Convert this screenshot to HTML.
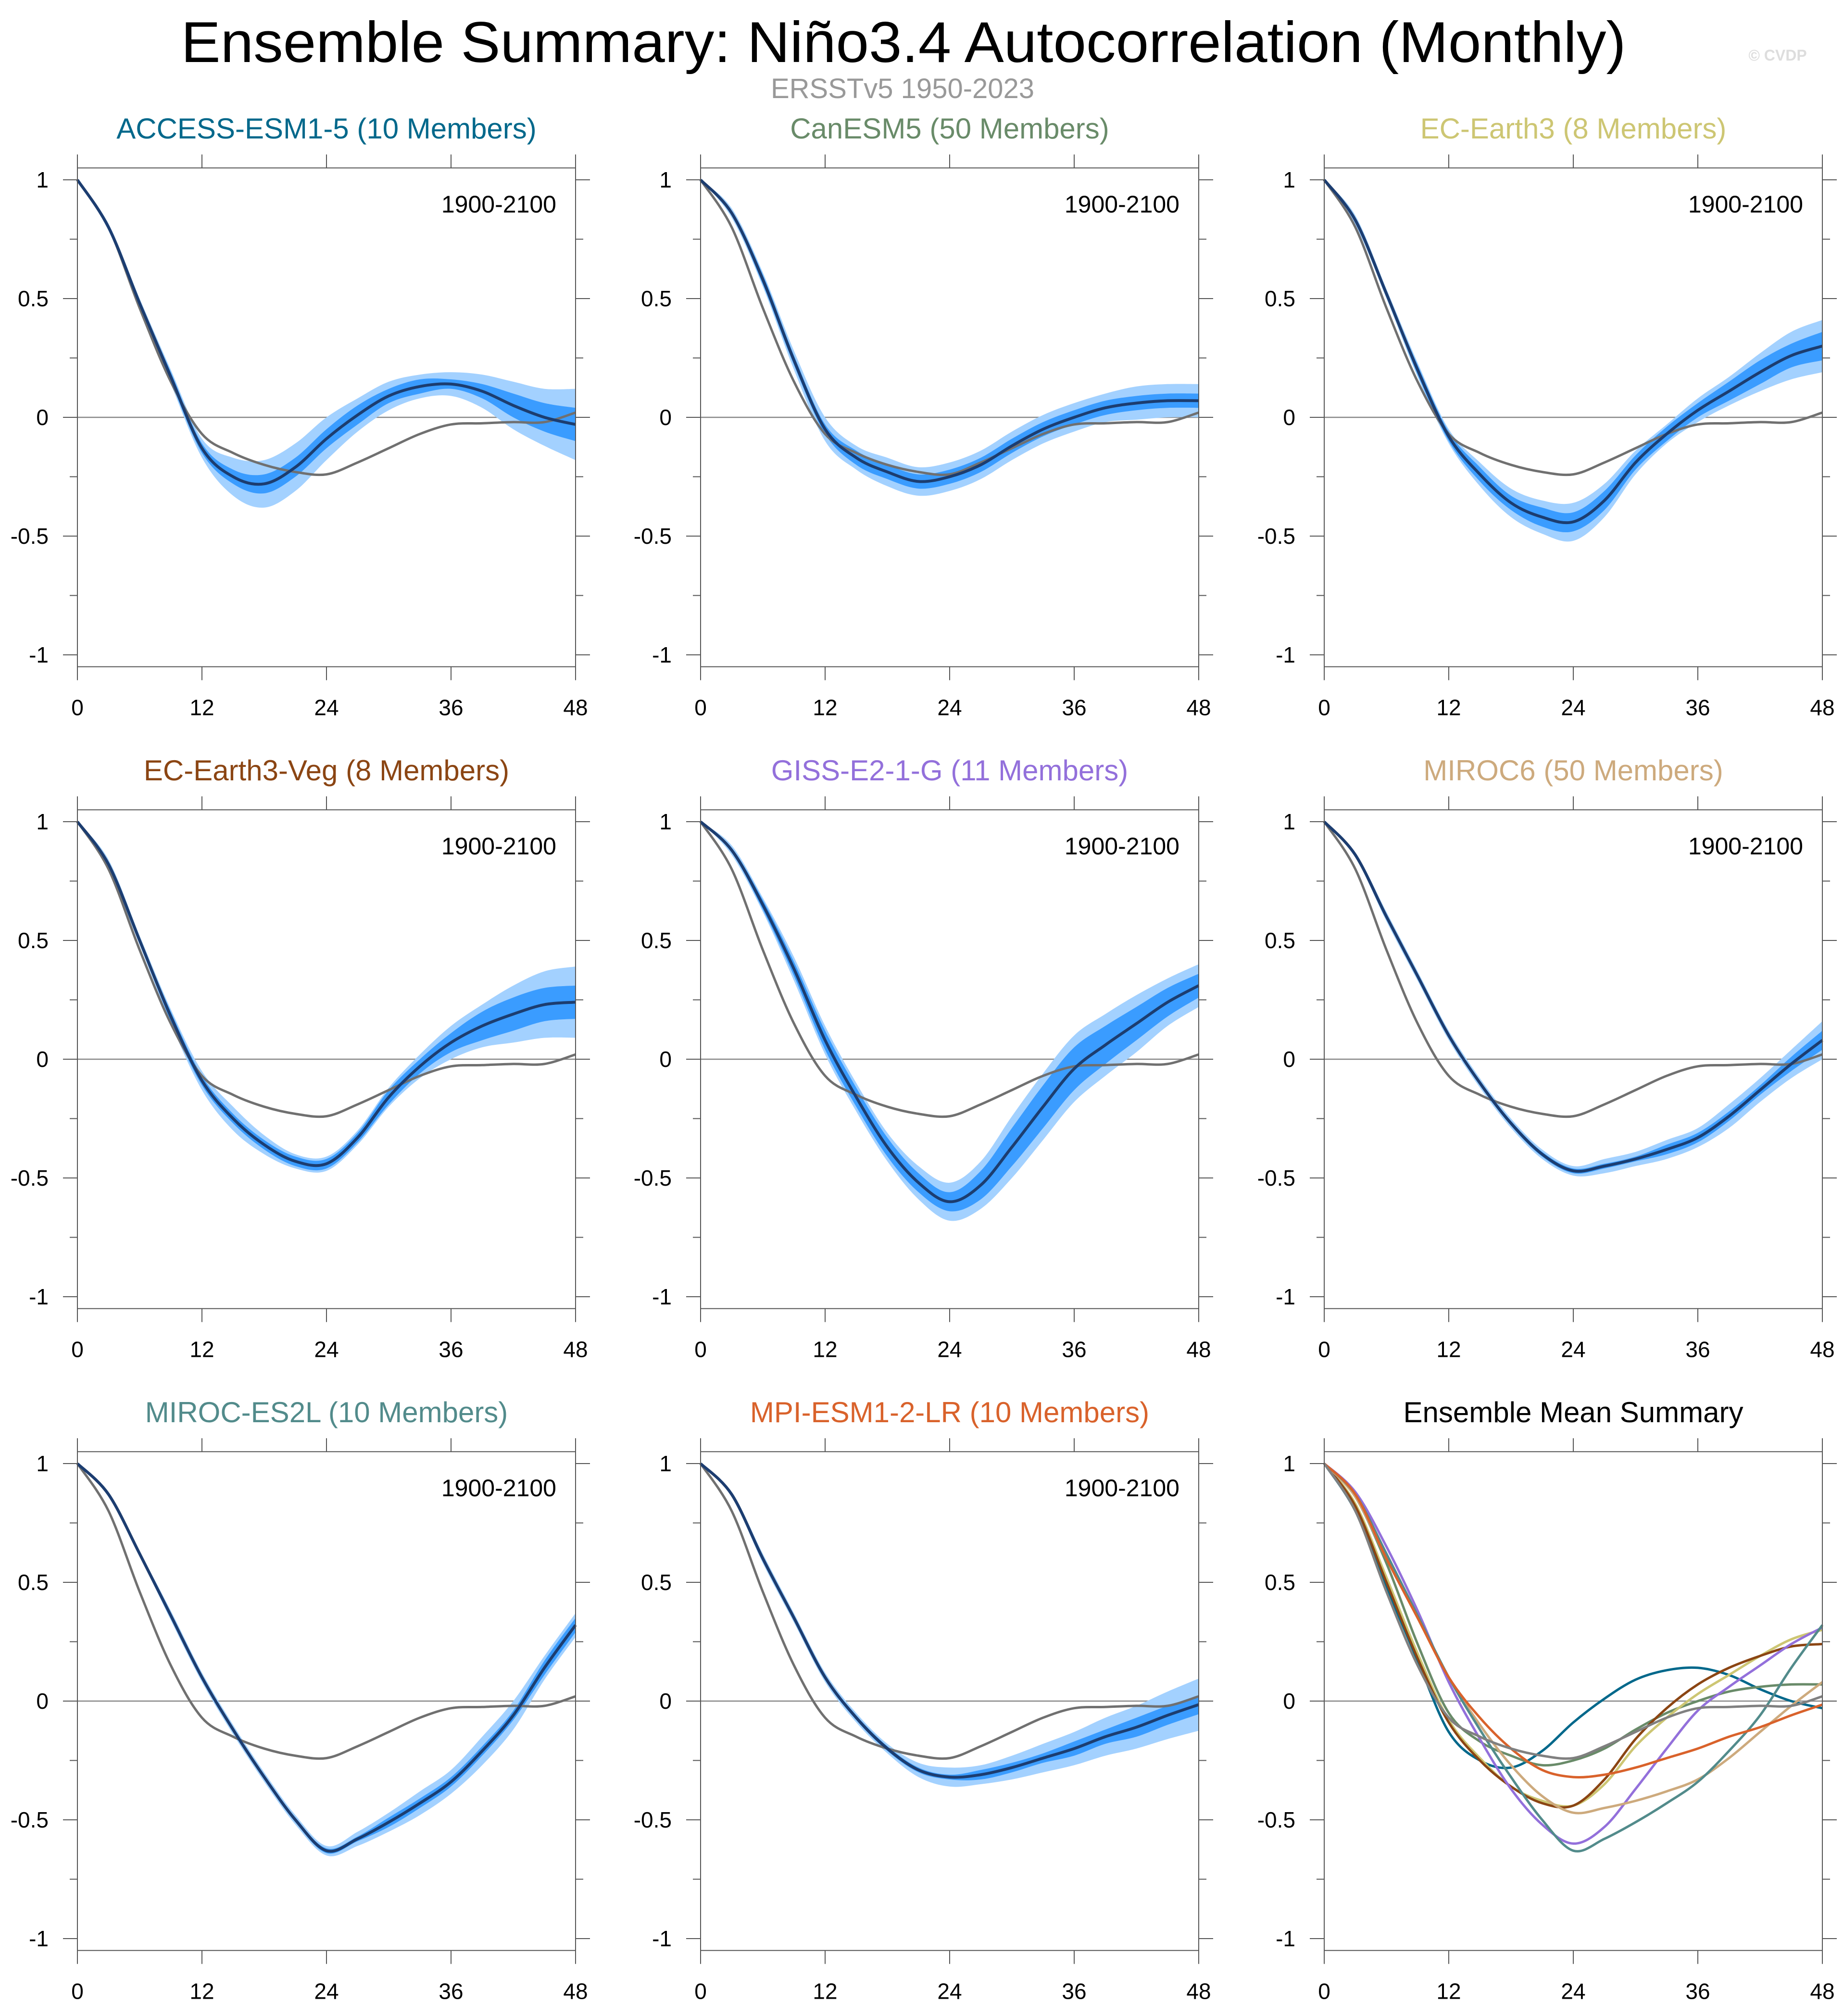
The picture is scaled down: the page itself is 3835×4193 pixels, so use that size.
<!DOCTYPE html>
<html><head><meta charset="utf-8"><style>
html,body{margin:0;padding:0;background:#fff;}
svg text{font-family:"Liberation Sans",sans-serif;}
</style></head><body>
<svg id="fig" xmlns="http://www.w3.org/2000/svg" width="3835" height="4188" viewBox="0 0 3835 4188">
<rect width="3835" height="4188" fill="#fff"/>
<text x="1879" y="129" font-size="120" text-anchor="middle" fill="#000" textLength="3005" lengthAdjust="spacingAndGlyphs">Ensemble Summary: Niño3.4 Autocorrelation (Monthly)</text>
<text x="1877" y="204" font-size="58" text-anchor="middle" fill="#999">ERSSTv5 1950-2023</text>
<text x="3697" y="126" font-size="32" font-weight="bold" text-anchor="middle" fill="#ddd">© CVDP</text>
<g id="panels"></g>
</svg>
<script>
const lags=[0,3,6,9,12,15,18,21,24,27,30,33,36,39,42,45,48];
const obs=[1,0.8,0.46,0.15,-0.07,-0.15,-0.2,-0.23,-0.24,-0.19,-0.13,-0.07,-0.03,-0.025,-0.02,-0.02,0.02];
const modelNames=["ACCESS-ESM1-5 (10 Members)","CanESM5 (50 Members)","EC-Earth3 (8 Members)","EC-Earth3-Veg (8 Members)","GISS-E2-1-G (11 Members)","MIROC6 (50 Members)","MIROC-ES2L (10 Members)","MPI-ESM1-2-LR (10 Members)"];
const accessMean=[1,0.8,0.48,0.17,-0.13,-0.25,-0.28,-0.21,-0.09,0.01,0.09,0.13,0.14,0.11,0.05,0.0,-0.03];
const accessInner=[0,0.01,0.01,0.02,0.02,0.03,0.04,0.04,0.04,0.04,0.03,0.03,0.02,0.03,0.05,0.06,0.07];
const accessOuter=[0,0.015,0.02,0.03,0.04,0.08,0.1,0.1,0.09,0.07,0.06,0.05,0.05,0.07,0.1,0.12,0.15];
const canMean=[1,0.86,0.58,0.24,-0.05,-0.17,-0.23,-0.27,-0.25,-0.2,-0.12,-0.05,0.0,0.04,0.06,0.07,0.07];
const canInner=[0,0.01,0.02,0.02,0.02,0.03,0.03,0.03,0.03,0.03,0.03,0.03,0.03,0.03,0.03,0.03,0.03];
const canOuter=[0,0.02,0.03,0.04,0.05,0.05,0.06,0.06,0.06,0.06,0.06,0.06,0.06,0.06,0.07,0.07,0.07];
const ec3Mean=[1,0.83,0.52,0.2,-0.08,-0.24,-0.36,-0.42,-0.44,-0.35,-0.19,-0.07,0.03,0.11,0.19,0.26,0.3];
const ec3Inner=[0,0.01,0.01,0.02,0.02,0.03,0.03,0.04,0.04,0.04,0.03,0.03,0.03,0.04,0.05,0.05,0.06];
const ec3Outer=[0,0.02,0.02,0.03,0.03,0.05,0.06,0.07,0.08,0.07,0.05,0.04,0.05,0.06,0.08,0.1,0.11];
const vegMean=[1,0.82,0.5,0.18,-0.09,-0.25,-0.36,-0.43,-0.44,-0.33,-0.16,-0.03,0.07,0.14,0.19,0.23,0.24];
const vegInner=[0,0.01,0.01,0.02,0.02,0.02,0.02,0.02,0.02,0.02,0.03,0.03,0.04,0.06,0.07,0.07,0.07];
const vegOuter=[0,0.02,0.02,0.03,0.04,0.05,0.04,0.03,0.03,0.03,0.04,0.05,0.07,0.09,0.12,0.14,0.15];
const gissMean=[1,0.88,0.65,0.38,0.08,-0.16,-0.37,-0.52,-0.6,-0.53,-0.37,-0.2,-0.04,0.06,0.15,0.24,0.31];
const gissInner=[0,0.01,0.02,0.03,0.04,0.04,0.04,0.04,0.04,0.06,0.08,0.09,0.09,0.08,0.07,0.06,0.05];
const gissOuter=[0,0.02,0.03,0.05,0.06,0.06,0.06,0.07,0.08,0.1,0.13,0.14,0.14,0.13,0.12,0.1,0.09];
const miroc6Mean=[1,0.86,0.6,0.35,0.1,-0.1,-0.27,-0.4,-0.47,-0.45,-0.42,-0.38,-0.33,-0.24,-0.13,-0.02,0.08];
const miroc6Inner=[0,0.01,0.01,0.01,0.01,0.01,0.01,0.01,0.01,0.01,0.01,0.02,0.02,0.02,0.02,0.03,0.04];
const miroc6Outer=[0,0.01,0.02,0.02,0.02,0.02,0.02,0.02,0.02,0.03,0.03,0.04,0.04,0.05,0.05,0.06,0.08];
const es2lMean=[1,0.87,0.62,0.36,0.1,-0.12,-0.32,-0.5,-0.63,-0.58,-0.51,-0.43,-0.34,-0.21,-0.06,0.14,0.32];
const es2lInner=[0,0.01,0.01,0.01,0.01,0.01,0.01,0.01,0.01,0.01,0.02,0.02,0.02,0.02,0.02,0.03,0.03];
const es2lOuter=[0,0.01,0.01,0.02,0.02,0.02,0.02,0.02,0.02,0.03,0.04,0.05,0.05,0.06,0.06,0.05,0.05];
const mpiMean=[1,0.87,0.6,0.35,0.1,-0.07,-0.2,-0.29,-0.32,-0.31,-0.28,-0.24,-0.2,-0.15,-0.11,-0.06,-0.015];
const mpiInner=[0,0.01,0.01,0.01,0.01,0.01,0.01,0.01,0.01,0.02,0.02,0.02,0.03,0.03,0.04,0.04,0.04];
const mpiOuter=[0,0.01,0.02,0.02,0.02,0.02,0.02,0.03,0.04,0.04,0.05,0.06,0.07,0.08,0.09,0.1,0.11];
const xTicks=[0,12,24,36,48];
const yTicks=[-1,-0.5,0,0.5,1];
const yTickLabels=["-1","-0.5","0","0.5","1"];
const periodLabel="1900-2100";

const means=[accessMean,canMean,ec3Mean,vegMean,gissMean,miroc6Mean,es2lMean,mpiMean];
const inners=[accessInner,canInner,ec3Inner,vegInner,gissInner,miroc6Inner,es2lInner,mpiInner];
const outers=[accessOuter,canOuter,ec3Outer,vegOuter,gissOuter,miroc6Outer,es2lOuter,mpiOuter];
const colors=["#00688b","#698b69","#cdc673","#8b4513","#9370db","#cdaa7d","#528b8b","#d9622b"];

const NS="http://www.w3.org/2000/svg";
const root=document.getElementById("panels");
const colLeft=[161,1457,2754], W=1036, rowZero=[868,2203,3538], U=494;
function mk(tag,attrs,parent){const e=document.createElementNS(NS,tag);for(const k in attrs)e.setAttribute(k,attrs[k]);parent.appendChild(e);return e;}
function spline(pts){let d="M"+pts[0][0].toFixed(1)+","+pts[0][1].toFixed(1);
 for(let i=0;i<pts.length-1;i++){const p0=pts[Math.max(0,i-1)],p1=pts[i],p2=pts[i+1],p3=pts[Math.min(pts.length-1,i+2)];
 const c1=[p1[0]+(p2[0]-p0[0])/6,p1[1]+(p2[1]-p0[1])/6],c2=[p2[0]-(p3[0]-p1[0])/6,p2[1]-(p3[1]-p1[1])/6];
 d+="C"+c1[0].toFixed(1)+","+c1[1].toFixed(1)+" "+c2[0].toFixed(1)+","+c2[1].toFixed(1)+" "+p2[0].toFixed(1)+","+p2[1].toFixed(1);}
 return d;}
function bandPath(xs,ys,m,h){const up=lags.map((l,i)=>[xs(l),ys(m[i]+h[i])]);const lo=lags.map((l,i)=>[xs(l),ys(m[i]-h[i])]).reverse();
 const d2=spline(lo);return spline(up)+"L"+d2.slice(1)+"Z";}

for(let p=0;p<9;p++){
 const c=p%3,r=Math.floor(p/3);const L=colLeft[c],R=L+W,Z=rowZero[r];
 const xs=v=>L+v/48*W, ys=v=>Z-v*U;
 const T=ys(1.05),B=ys(-1.05);
 const g=mk("g",{},root);
 
 
 const title=mk("text",{x:(L+R)/2,y:Z-580,"font-size":60,"text-anchor":"middle",fill:p<8?colors[p]:"#000"},g);
 title.textContent=p<8?modelNames[p]:"Ensemble Mean Summary";
 
 
 const zl=mk("line",{x1:L,x2:R,y1:ys(0),y2:ys(0),stroke:"#888","stroke-width":2.5},g);
 
 
 if(p<8){
  const ob=mk("path",{d:bandPath(xs,ys,means[p],outers[p]),fill:"#a3d1ff",stroke:"none"},g);
  
  
  const ib=mk("path",{d:bandPath(xs,ys,means[p],inners[p]),fill:"#3a9cff",stroke:"none"},g);
  
  
  const ol=mk("path",{d:spline(lags.map((l,i)=>[xs(l),ys(obs[i])])),fill:"none",stroke:"#707070","stroke-width":5},g);
  
  
  const ml=mk("path",{d:spline(lags.map((l,i)=>[xs(l),ys(means[p][i])])),fill:"none",stroke:"#1c3d70","stroke-width":6},g);
  
  
  const pl=mk("text",{x:R-40,y:ys(1)+68,"font-size":50,"text-anchor":"end",fill:"#000"},g);
  pl.textContent=periodLabel;
  
  
 } else {
  for(let m=0;m<8;m++){
   const sl=mk("path",{d:spline(lags.map((l,i)=>[xs(l),ys(means[m][i])])),fill:"none",stroke:colors[m],"stroke-width":5},g);
   
   
  }
  const so=mk("path",{d:spline(lags.map((l,i)=>[xs(l),ys(obs[i])])),fill:"none",stroke:"#808080","stroke-width":5},g);
  
  
 }
 const fr=mk("rect",{x:L,y:T,width:W,height:B-T,fill:"none",stroke:"#555","stroke-width":2},g);
 
 
 for(let v=-1;v<=1.001;v+=0.25){
  const maj=Math.abs(v*2-Math.round(v*2))<1e-6;const len=maj?30:16;
  mk("line",{x1:L-len,x2:L,y1:ys(v),y2:ys(v),stroke:"#555","stroke-width":2},g);
  mk("line",{x1:R,x2:R+len,y1:ys(v),y2:ys(v),stroke:"#555","stroke-width":2},g);
 }
 yTicks.forEach((v,i)=>{const t=mk("text",{x:L-60,y:ys(v)+16,"font-size":46,"text-anchor":"end",fill:"#000"},g);t.textContent=yTickLabels[i];
  
  });
 xTicks.forEach(v=>{
  mk("line",{x1:xs(v),x2:xs(v),y1:T-28,y2:T,stroke:"#555","stroke-width":2},g);
  mk("line",{x1:xs(v),x2:xs(v),y1:B,y2:B+28,stroke:"#555","stroke-width":2},g);
  const t=mk("text",{x:xs(v),y:B+101,"font-size":46,"text-anchor":"middle",fill:"#000"},g);t.textContent=String(v);
  
  
 });
}
</script>
</body></html>
